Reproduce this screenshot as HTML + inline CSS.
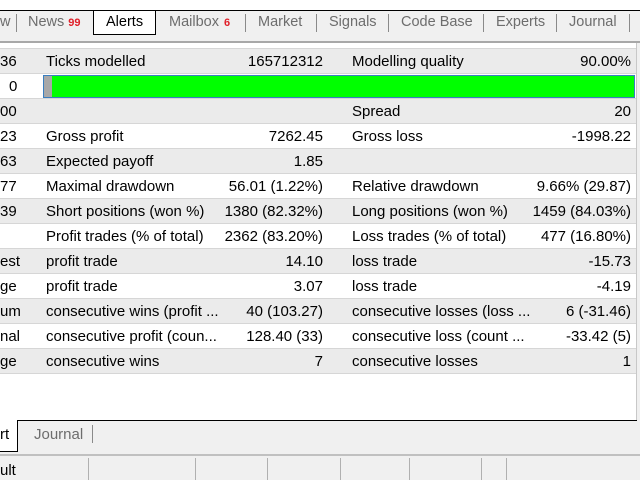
<!DOCTYPE html>
<html><head><style>
*{margin:0;padding:0;box-sizing:border-box}
body{width:640px;height:480px;overflow:hidden;background:#f0f0f0;font-family:"Liberation Sans",sans-serif;font-size:15px;color:#000;position:relative}
.a{position:absolute;white-space:nowrap}
.tab{position:absolute;top:14px;color:#6d6d6d;font-size:14.5px}
.sep{position:absolute;top:14px;width:1px;height:18px;background:#8a8a8a}
.row{position:absolute;left:0;width:636px;height:25px;border-top:1px solid #d6d6d6}
.g{background:#ebebeb}.w{background:#fff}
.row span{position:absolute;top:4px;white-space:nowrap}
</style></head><body>
<div class="a" style="left:0;top:0;width:640px;height:10px;background:#fff"></div>
<div class="a" style="left:0;top:10px;width:640px;height:1px;background:#000"></div>
<div class="a" style="left:0;top:11px;width:640px;height:24px;background:#f0f0f0"></div>
<div class="tab" style="left:0">w</div>
<div class="sep" style="left:16px"></div>
<div class="tab" style="left:28px">News<b style="color:#e0202a;font-size:11px;margin-left:4px">99</b></div>
<div class="a" style="left:93px;top:10px;width:63px;height:25px;background:#fff;border:1px solid #000"></div>
<div class="tab" style="left:106px;color:#000">Alerts</div>
<div class="tab" style="left:169px">Mailbox<b style="color:#e0202a;font-size:11px;margin-left:5px">6</b></div>
<div class="sep" style="left:245px"></div>
<div class="tab" style="left:258px">Market</div>
<div class="sep" style="left:316px"></div>
<div class="tab" style="left:329px">Signals</div>
<div class="sep" style="left:388px"></div>
<div class="tab" style="left:401px">Code Base</div>
<div class="sep" style="left:483px"></div>
<div class="tab" style="left:496px">Experts</div>
<div class="sep" style="left:556px"></div>
<div class="tab" style="left:569px">Journal</div>
<div class="sep" style="left:629px"></div>
<div class="a" style="left:0;top:41px;width:640px;height:2px;background:#a8a8a8"></div>
<div class="a" style="left:0;top:43px;width:637px;height:378px;background:#fff"></div>
<div class="a" style="left:636px;top:43px;width:1px;height:378px;background:#c8c8c8"></div>

<div class="row g" style="top:48px"><span style="left:0">36</span><span style="left:46px">Ticks modelled</span><span style="right:313px">165712312</span><span style="left:352px">Modelling quality</span><span style="right:5px">90.00%</span></div>
<div class="row w" style="top:73px"><span style="left:9px">0</span></div>
<div class="a" style="left:43px;top:75px;width:592px;height:23px;border:1px solid #3a7fc0;background:#00ff00"><div style="width:8px;height:21px;background:#a8a8a8"></div></div>
<div class="row g" style="top:98px"><span style="left:0">00</span><span style="left:352px">Spread</span><span style="right:5px">20</span></div>
<div class="row w" style="top:123px"><span style="left:0">23</span><span style="left:46px">Gross profit</span><span style="right:313px">7262.45</span><span style="left:352px">Gross loss</span><span style="right:5px">-1998.22</span></div>
<div class="row g" style="top:148px"><span style="left:0">63</span><span style="left:46px">Expected payoff</span><span style="right:313px">1.85</span></div>
<div class="row w" style="top:173px"><span style="left:0">77</span><span style="left:46px">Maximal drawdown</span><span style="right:313px">56.01 (1.22%)</span><span style="left:352px">Relative drawdown</span><span style="right:5px">9.66% (29.87)</span></div>
<div class="row g" style="top:198px"><span style="left:0">39</span><span style="left:46px">Short positions (won %)</span><span style="right:313px">1380 (82.32%)</span><span style="left:352px">Long positions (won %)</span><span style="right:5px">1459 (84.03%)</span></div>
<div class="row w" style="top:223px"><span style="left:46px">Profit trades (% of total)</span><span style="right:313px">2362 (83.20%)</span><span style="left:352px">Loss trades (% of total)</span><span style="right:5px">477 (16.80%)</span></div>
<div class="row g" style="top:248px"><span style="left:0">est</span><span style="left:46px">profit trade</span><span style="right:313px">14.10</span><span style="left:352px">loss trade</span><span style="right:5px">-15.73</span></div>
<div class="row w" style="top:273px"><span style="left:0">ge</span><span style="left:46px">profit trade</span><span style="right:313px">3.07</span><span style="left:352px">loss trade</span><span style="right:5px">-4.19</span></div>
<div class="row g" style="top:298px"><span style="left:0">um</span><span style="left:46px">consecutive wins (profit ...</span><span style="right:313px">40 (103.27)</span><span style="left:352px">consecutive losses (loss ...</span><span style="right:5px">6 (-31.46)</span></div>
<div class="row w" style="top:323px"><span style="left:0">nal</span><span style="left:46px">consecutive profit (coun...</span><span style="right:313px">128.40 (33)</span><span style="left:352px">consecutive loss (count ...</span><span style="right:5px">-33.42 (5)</span></div>
<div class="row g" style="top:348px"><span style="left:0">ge</span><span style="left:46px">consecutive wins</span><span style="right:313px">7</span><span style="left:352px">consecutive losses</span><span style="right:5px">1</span></div>
<div class="a" style="left:0;top:373px;width:636px;height:1px;background:#d6d6d6"></div>

<div class="a" style="left:0;top:420px;width:637px;height:1px;background:#000"></div>
<div class="a" style="left:0;top:420px;width:18px;height:32px;background:#fff;border-right:1px solid #000;border-bottom:1px solid #000"></div>
<div class="a" style="left:0;top:426px">rt</div>
<div class="a" style="left:34px;top:426px;color:#6d6d6d">Journal</div>
<div class="a" style="left:92px;top:425px;width:1px;height:18px;background:#8a8a8a"></div>
<div class="a" style="left:0;top:454px;width:640px;height:2px;background:#c0c0c0"></div>
<div class="a" style="left:0;top:462px">ult</div>
<div class="a" style="left:88px;top:458px;width:1px;height:22px;background:#b0b0b0"></div>
<div class="a" style="left:195px;top:458px;width:1px;height:22px;background:#b0b0b0"></div>
<div class="a" style="left:267px;top:458px;width:1px;height:22px;background:#b0b0b0"></div>
<div class="a" style="left:340px;top:458px;width:1px;height:22px;background:#b0b0b0"></div>
<div class="a" style="left:409px;top:458px;width:1px;height:22px;background:#b0b0b0"></div>
<div class="a" style="left:481px;top:458px;width:1px;height:22px;background:#b0b0b0"></div>
<div class="a" style="left:506px;top:458px;width:1px;height:22px;background:#b0b0b0"></div>
</body></html>
